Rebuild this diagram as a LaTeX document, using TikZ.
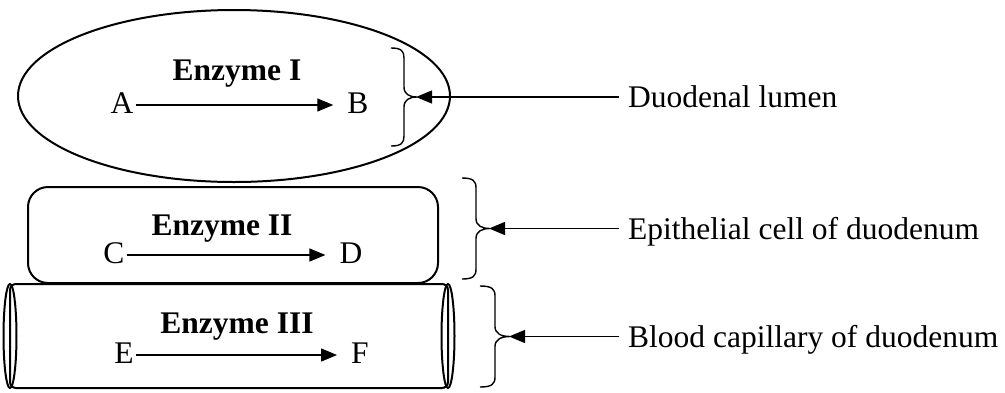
\documentclass[tikz,border=0pt]{standalone}
\usepackage{fontspec}
\setmainfont{Liberation Serif}
\usepackage{tikz}
\usetikzlibrary{arrows.meta, positioning}

% curly brace opening to the right: name, x, top, bottom, amplitude
\newcommand{\curly}[5]{%
  \draw[brc] (#2,#3) .. controls ({#2+0.4*#5},#3) and ({#2+0.5*#5},{#3+3}) .. ({#2+0.5*#5},{#3+10})
    -- ({#2+0.5*#5},{(#3+#4)/2-10})
    .. controls ({#2+0.5*#5},{(#3+#4)/2-3}) and ({#2+0.7*#5},{(#3+#4)/2}) .. ({#2+#5},{(#3+#4)/2})
    .. controls ({#2+0.7*#5},{(#3+#4)/2}) and ({#2+0.5*#5},{(#3+#4)/2+3}) .. ({#2+0.5*#5},{(#3+#4)/2+10})
    -- ({#2+0.5*#5},{#4-10})
    .. controls ({#2+0.5*#5},{#4-3}) and ({#2+0.4*#5},#4) .. (#2,#4);
  \coordinate (#1) at ({#2+#5},{(#3+#4)/2});}

\begin{document}
\begin{tikzpicture}[x=1pt, y=-1pt, line join=round,
    font=\fontsize{31.5}{38}\selectfont,
    wall/.style={line width=2pt},
    sub/.style={inner sep=2pt, text height=21pt, text depth=5pt},
    enz/.style={font=\fontsize{31.5}{38}\selectfont\bfseries, inner sep=0pt},
    lbl/.style={anchor=west, inner xsep=9pt, inner ysep=0pt, text height=21pt, text depth=0pt},
    arr/.style={line width=1.3pt, -{Triangle[length=16pt, width=13pt]}},
    brc/.style={line width=1.4pt}]
    \useasboundingbox (0,0) rectangle (1005,392);

    % Duodenal lumen
    \draw[wall] (234,96) ellipse [x radius=216, y radius=86];
    \node[enz, anchor=base] (enzI) at (237,80) {Enzyme I};
    \node[sub, anchor=base] (A) at (122,113) {A};
    \node[sub, anchor=base] (B) at (358,113) {B};
    \draw[arr, shorten >=12pt] (A) -- (B);

    % Epithelial cell
    \draw[wall, rounded corners=20pt] (28,187) rectangle (438,283);
    \node[enz, anchor=base] (enzII) at (222,235) {Enzyme II};
    \node[sub, anchor=base] (C) at (114,263) {C};
    \node[sub, anchor=base] (D) at (351,263) {D};
    \draw[arr, shorten >=12pt] (C) -- (D);

    % Blood capillary
    \draw[wall, rounded corners=6pt] (10,284) rectangle (448,388);
    \draw[wall] (10,336) ellipse [x radius=6.5, y radius=52];
    \draw[wall] (448,336) ellipse [x radius=6.5, y radius=52];
    \node[enz, anchor=base] (enzIII) at (237,333) {Enzyme III};
    \node[sub, anchor=base] (E) at (124,363) {E};
    \node[sub, anchor=base] (F) at (360,363) {F};
    \draw[arr, shorten >=12pt] (E) -- (F);

    % Braces
    \curly{tipI}{391}{48}{146}{26}
    \curly{tipII}{462}{178}{279}{28}
    \curly{tipIII}{480}{286}{387}{30}

    % Labels
    \node[lbl] (lumen) at (619,97) {Duodenal lumen};
    \node[lbl] (cell) at (619,228.5) {Epithelial cell of duodenum};
    \node[lbl] (blood) at (619,336.5) {Blood capillary of duodenum};
    \draw[arr, shorten >=-1pt] (lumen.west) -- (tipI);
    \draw[arr, shorten >=-1pt] (cell.west) -- (tipII);
    \draw[arr, shorten >=-1pt] (blood.west) -- (tipIII);
\end{tikzpicture}
\end{document}
